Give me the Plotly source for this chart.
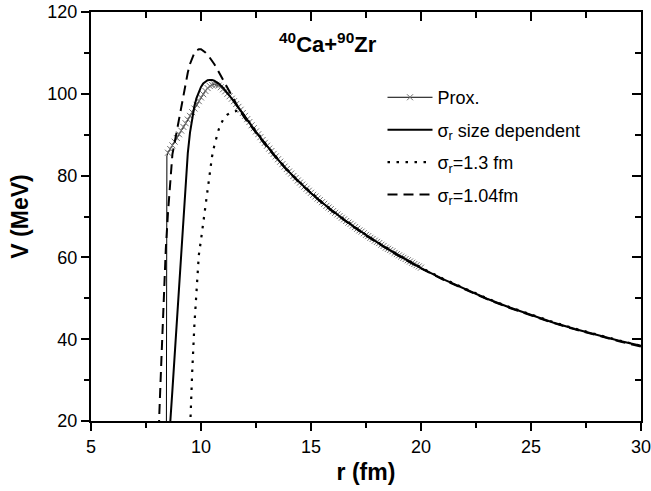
import plotly.graph_objects as go

# ---------------- data ----------------
# Proximity potential (markers every 0.1 fm from 8.5 to 20 fm)
prox_r = [8.5, 8.6, 8.7, 8.8, 8.9, 9.0, 9.1, 9.2, 9.3, 9.4, 9.5, 9.6, 9.7, 9.8, 9.9,
          10.0, 10.1, 10.2, 10.3, 10.4, 10.5, 10.6, 10.7, 10.8, 10.9,
          11.0, 11.1, 11.2, 11.3, 11.4, 11.5, 11.6, 11.7, 11.8, 11.9,
          12.0, 12.1, 12.2, 12.3, 12.4, 12.5, 12.6, 12.7, 12.8, 12.9,
          13.0, 13.1, 13.2, 13.3, 13.4, 13.5, 13.6, 13.7, 13.8, 13.9,
          14.0, 14.1, 14.2, 14.3, 14.4, 14.5, 14.6, 14.7, 14.8, 14.9,
          15.0, 15.1, 15.2, 15.3, 15.4, 15.5, 15.6, 15.7, 15.8, 15.9,
          16.0, 16.1, 16.2, 16.3, 16.4, 16.5, 16.6, 16.7, 16.8, 16.9,
          17.0, 17.1, 17.2, 17.3, 17.4, 17.5, 17.6, 17.7, 17.8, 17.9,
          18.0, 18.1, 18.2, 18.3, 18.4, 18.5, 18.6, 18.7, 18.8, 18.9,
          19.0, 19.1, 19.2, 19.3, 19.4, 19.5, 19.6, 19.7, 19.8, 19.9, 20.0]
prox_v = [85.6, 86.5, 87.4, 88.3, 89.2, 90.1, 91.0, 91.9, 92.8, 93.7, 94.6, 95.5, 96.4, 97.3, 98.2,
          99.1, 99.9, 100.7, 101.4, 101.9, 102.2, 102.3, 102.2, 102.0, 101.6,
          101.1, 100.6, 100.0, 99.4, 98.8, 98.2, 97.5, 96.8, 96.1, 95.3,
          94.6, 93.8, 93.1, 92.3, 91.6, 90.8, 90.1, 89.4, 88.7, 88.0,
          87.3, 86.6, 86.0, 85.3, 84.7, 84.0, 83.4, 82.8, 82.2, 81.6,
          81.0, 80.5, 79.9, 79.4, 78.8, 78.3, 77.8, 77.3, 76.8, 76.3,
          75.8, 75.3, 74.9, 74.4, 74.0, 73.5, 73.1, 72.6, 72.2, 71.8,
          71.3, 70.9, 70.5, 70.1, 69.7, 69.3, 68.9, 68.5, 68.2, 67.8,
          67.4, 67.0, 66.6, 66.3, 65.9, 65.5, 65.2, 64.8, 64.5, 64.1,
          63.8, 63.5, 63.1, 62.8, 62.4, 62.1, 61.8, 61.5, 61.1, 60.8,
          60.5, 60.2, 59.9, 59.6, 59.3, 59.0, 58.7, 58.4, 58.1, 57.8, 57.5]
# vertical wall of the proximity curve
prox_wall_r = [8.42, 8.45, 8.5]
prox_wall_v = [0.0, 84.8, 85.6]

# sigma_r size dependent
size_r = [8.55, 8.6, 8.7, 8.8, 8.9, 9.0, 9.1, 9.2, 9.3, 9.4, 9.5, 9.6, 9.7, 9.8, 9.9,
          10.0, 10.1, 10.2, 10.3, 10.4, 10.5, 10.6, 10.7, 10.8, 11.0, 11.2, 11.4,
          11.6, 11.8, 12.0, 12.5, 13.0, 13.5, 14.0, 14.5, 15.0, 15.5, 16.0, 16.5,
          17.0, 17.5, 18.0, 18.5, 19.0, 19.5, 20.0, 21.0, 22.0, 23.0, 24.0, 25.0,
          26.0, 27.0, 28.0, 29.0, 30.0]
size_v = [10.0, 19.5, 27.5, 36.0, 44.5, 53.0, 61.5, 70.0, 78.5, 85.5, 90.5, 94.3, 97.0, 99.0, 100.6,
          101.7, 102.5, 103.0, 103.3, 103.4, 103.4, 103.2, 102.9, 102.5, 101.5, 100.2, 98.8,
          97.3, 95.9, 94.4, 90.6, 87.1, 83.9, 80.9, 78.2, 75.7, 73.4, 71.2, 69.2,
          67.3, 65.4, 63.7, 62.0, 60.4, 58.9, 57.4, 54.7, 52.2, 49.9, 47.8, 45.9,
          44.1, 42.5, 41.0, 39.6, 38.4]

# sigma_r = 1.3 fm
s13_r = [9.45, 9.5, 9.6, 9.7, 9.8, 9.9, 10.0, 10.1, 10.2, 10.3, 10.4, 10.5, 10.6, 10.7,
         10.8, 10.9, 11.0, 11.2, 11.4, 11.6, 11.8, 12.0, 12.5, 13.0, 13.5, 14.0, 14.5,
         15.0, 15.5, 16.0, 16.5, 17.0, 17.5, 18.0, 18.5, 19.0, 19.5, 20.0, 21.0, 22.0,
         23.0, 24.0, 25.0, 26.0, 27.0, 28.0, 29.0, 30.0]
s13_v = [10.0, 18.5, 32.0, 43.5, 52.5, 60.5, 64.3, 68.5, 72.6, 76.5, 81.5, 84.6, 87.2, 89.4,
         91.2, 92.6, 93.6, 94.9, 95.5, 95.8, 95.8, 94.5, 90.8, 87.3, 84.0, 81.0, 78.3,
         75.8, 73.5, 71.3, 69.3, 67.4, 65.5, 63.8, 62.1, 60.5, 59.0, 57.5, 54.8, 52.3,
         50.0, 47.9, 46.0, 44.2, 42.6, 41.1, 39.7, 38.4]

# sigma_r = 1.04 fm
s104_r = [8.05, 8.1, 8.2, 8.3, 8.4, 8.5, 8.6, 8.7, 8.8, 8.9, 9.0, 9.1, 9.2, 9.3, 9.4,
          9.5, 9.6, 9.7, 9.8, 9.9, 10.0, 10.1, 10.2, 10.3, 10.4, 10.5, 10.6, 10.7, 10.8,
          10.9, 11.0, 11.2, 11.4, 11.6, 11.8, 12.0, 12.5, 13.0, 13.5, 14.0, 14.5, 15.0,
          15.5, 16.0, 16.5, 17.0, 17.5, 18.0, 18.5, 19.0, 19.5, 20.0, 21.0, 22.0, 23.0,
          24.0, 25.0, 26.0, 27.0, 28.0, 29.0, 30.0]
s104_v = [10.0, 21.0, 35.0, 49.0, 62.0, 71.0, 79.0, 85.2, 88.0, 90.8, 94.5, 97.2, 100.0, 102.8, 105.2,
          107.3, 108.9, 110.0, 110.6, 110.9, 110.9, 110.6, 110.1, 109.6, 108.9, 108.1, 107.3, 106.4, 105.4,
          104.4, 103.4, 101.4, 99.4, 97.4, 95.6, 94.0, 90.4, 87.0, 83.8, 80.8, 78.1, 75.6,
          73.3, 71.1, 69.1, 67.2, 65.3, 63.6, 61.9, 60.3, 58.8, 57.3, 54.6, 52.1, 49.8,
          47.7, 45.8, 44.0, 42.4, 40.9, 39.5, 38.2]

x_ticks = [5, 10, 15, 20, 25, 30]
y_ticks = [20, 40, 60, 80, 100, 120]
x_range = [5, 30]
y_range = [20, 120]

legend_names = ["Prox.", "σ<sub>r</sub> size dependent", "σ<sub>r</sub>=1.3 fm", "σ<sub>r</sub>=1.04fm"]
title_text = "<b><sup>40</sup>Ca+<sup>90</sup>Zr</b>"

# ---------------- figure ----------------
FONT = "Liberation Sans, Arial, sans-serif"
fig = go.Figure()

# invisible helper trace carrying the mirrored (inside) ticks on top/right
fig.add_trace(go.Scatter(x=x_range, y=y_range, xaxis="x2", yaxis="y2", mode="markers",
                         marker=dict(opacity=0), showlegend=False, hoverinfo="skip"))
fig.add_trace(go.Scatter(x=prox_wall_r, y=prox_wall_v, mode="lines",
                         line=dict(color="black", width=1), showlegend=False,
                         hoverinfo="skip"))
fig.add_trace(go.Scatter(x=prox_r, y=prox_v, mode="lines+markers", name=legend_names[0],
                         line=dict(color="black", width=1),
                         marker=dict(symbol="x-thin", size=6,
                                     line=dict(color="#707070", width=1)),
                         legendgroup="a"))
fig.add_trace(go.Scatter(x=size_r, y=size_v, mode="lines", name=legend_names[1],
                         line=dict(color="black", width=2), legendgroup="b"))
fig.add_trace(go.Scatter(x=s13_r, y=s13_v, mode="lines", name=legend_names[2],
                         line=dict(color="black", width=2.2, dash="2.5px,6.5px"),
                         legendgroup="c"))
fig.add_trace(go.Scatter(x=s104_r, y=s104_v, mode="lines", name=legend_names[3],
                         line=dict(color="black", width=2, dash="10px,6px"),
                         legendgroup="d"))

axis_common = dict(showgrid=False, zeroline=False, linecolor="black", linewidth=2,
                   tickcolor="black", tickwidth=2, automargin=False)

fig.update_layout(
    width=651, height=491,
    margin=dict(l=91, r=10, t=12, b=70),
    paper_bgcolor="white", plot_bgcolor="white",
    font=dict(family=FONT, color="black", size=18),
    xaxis=dict(range=x_range, tickvals=x_ticks, ticks="outside", ticklen=8,
               mirror=True, showline=True, ticklabeloverflow="allow",
               minor=dict(dtick=2.5, ticks="outside", ticklen=5, tickwidth=1.5, tickcolor="black"),
               tickfont=dict(size=18),
               title=dict(text="<b>r (fm)</b>", font=dict(size=23), standoff=8),
               **axis_common),
    yaxis=dict(range=y_range, tickvals=y_ticks, ticks="outside", ticklen=8,
               mirror=True, showline=True, ticklabeloverflow="allow",
               minor=dict(dtick=10, ticks="outside", ticklen=5, tickwidth=1.5, tickcolor="black"),
               tickfont=dict(size=18),
               title=dict(text="<b>V (MeV)</b>", font=dict(size=23), standoff=12),
               **axis_common),
    xaxis2=dict(range=x_range, overlaying="x", side="top", anchor="y2",
                tickvals=x_ticks, ticks="inside", ticklen=9, showticklabels=False,
                minor=dict(dtick=2.5, ticks="inside", ticklen=6, tickcolor="black"),
                showgrid=False, zeroline=False, tickcolor="black", tickwidth=2),
    yaxis2=dict(range=y_range, overlaying="y", side="right", anchor="x2",
                tickvals=y_ticks, ticks="inside", ticklen=9, showticklabels=False,
                minor=dict(dtick=10, ticks="inside", ticklen=6, tickcolor="black"),
                showgrid=False, zeroline=False, tickcolor="black", tickwidth=2),
    legend=dict(x=0.53, y=0.836, xanchor="left", yanchor="top",
                bgcolor="rgba(0,0,0,0)", borderwidth=0,
                font=dict(size=18, family=FONT),
                itemwidth=45, tracegroupgap=6, traceorder="grouped"),
    annotations=[dict(x=0.338, y=0.925, xref="paper", yref="paper",
                      text=title_text, showarrow=False,
                      font=dict(size=22, family=FONT), xanchor="left", yanchor="middle")],
)

fig.write_html("out.html", config={"displayModeBar": False},
               post_script="document.body.style.margin='0';document.body.style.padding='0';")
